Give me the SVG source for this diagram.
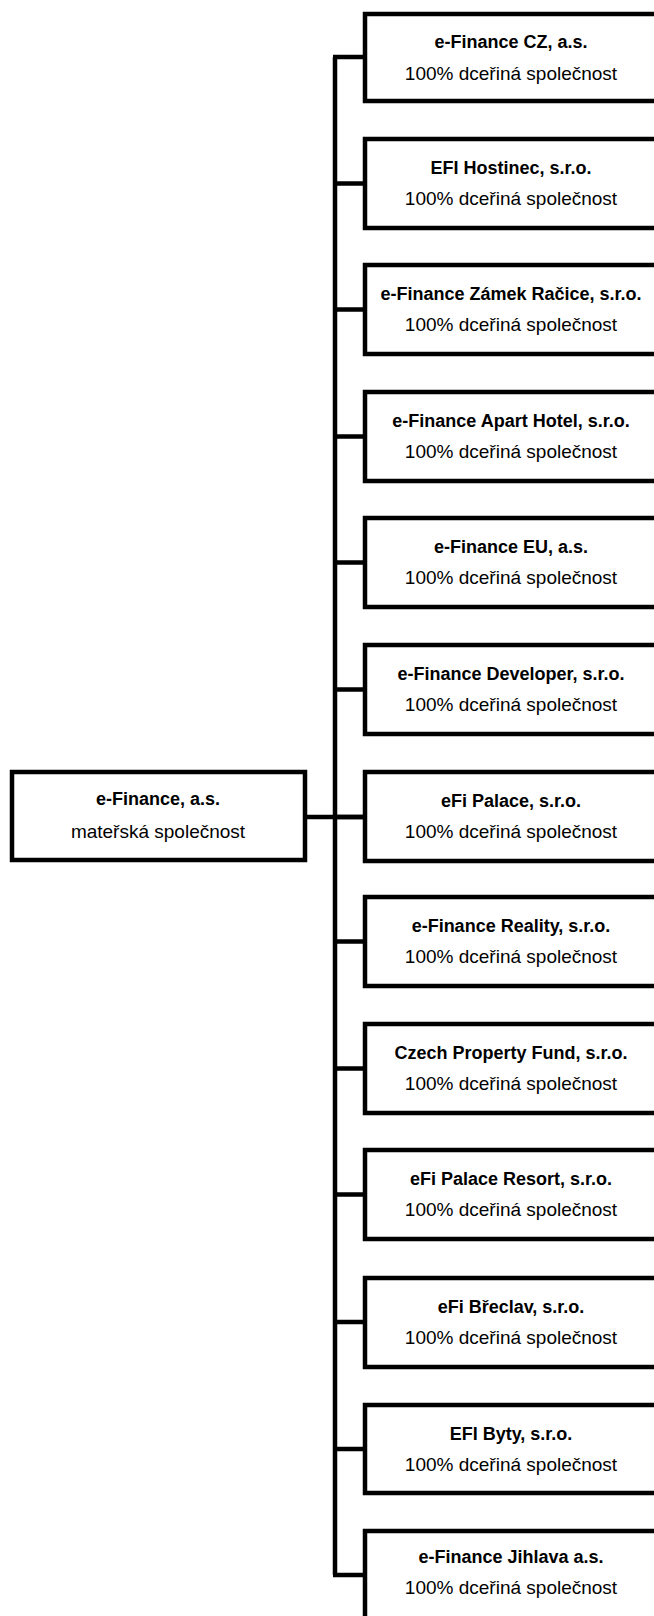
<svg xmlns="http://www.w3.org/2000/svg" width="654" height="1616" viewBox="0 0 654 1616">
<style>
.box{fill:#fff;stroke:#000;stroke-width:4.5}
.b{font-family:"Liberation Sans",Arial,sans-serif;font-weight:bold;font-size:18px;text-anchor:middle;fill:#000}
.r{font-family:"Liberation Sans",Arial,sans-serif;font-size:19px;text-anchor:middle;fill:#000}
.c{fill:none;stroke:#000;stroke-width:4.5}
</style>
<rect width="654" height="1616" fill="#fff"/>
<g id="connectors">
<path class="c" d="M335 57V1575"/>
<path class="c" d="M305 817H365"/>
<path class="c" d="M333 57H365M333 183.5H365M333 309.5H365M333 436.5H365M333 562.5H365M333 689.5H365M333 817H365M333 941.5H365M333 1068.5H365M333 1194.5H365M333 1322H365M333 1449H365M333 1575H365"/>
</g>
<g id="parent"><rect class="box" x="12" y="772" width="293" height="88"/><text class="b" x="158" y="805">e-Finance, a.s.</text><text class="r" x="158" y="838">mateřská společnost</text></g>
<g id="n1"><rect class="box" x="365" y="14" width="300" height="87"/><text class="b" x="511" y="48">e-Finance CZ, a.s.</text><text class="r" x="511" y="80">100% dceřiná společnost</text></g>
<g id="n2"><rect class="box" x="365" y="139" width="300" height="89"/><text class="b" x="511" y="174">EFI Hostinec, s.r.o.</text><text class="r" x="511" y="205">100% dceřiná společnost</text></g>
<g id="n3"><rect class="box" x="365" y="265" width="300" height="89"/><text class="b" x="511" y="300">e-Finance Zámek Račice, s.r.o.</text><text class="r" x="511" y="331">100% dceřiná společnost</text></g>
<g id="n4"><rect class="box" x="365" y="392" width="300" height="89"/><text class="b" x="511" y="427">e-Finance Apart Hotel, s.r.o.</text><text class="r" x="511" y="458">100% dceřiná společnost</text></g>
<g id="n5"><rect class="box" x="365" y="518" width="300" height="89"/><text class="b" x="511" y="553">e-Finance EU, a.s.</text><text class="r" x="511" y="584">100% dceřiná společnost</text></g>
<g id="n6"><rect class="box" x="365" y="645" width="300" height="89"/><text class="b" x="511" y="680">e-Finance Developer, s.r.o.</text><text class="r" x="511" y="711">100% dceřiná společnost</text></g>
<g id="n7"><rect class="box" x="365" y="772" width="300" height="89"/><text class="b" x="511" y="807">eFi Palace, s.r.o.</text><text class="r" x="511" y="838">100% dceřiná společnost</text></g>
<g id="n8"><rect class="box" x="365" y="897" width="300" height="89"/><text class="b" x="511" y="932">e-Finance Reality, s.r.o.</text><text class="r" x="511" y="963">100% dceřiná společnost</text></g>
<g id="n9"><rect class="box" x="365" y="1024" width="300" height="89"/><text class="b" x="511" y="1059">Czech Property Fund, s.r.o.</text><text class="r" x="511" y="1090">100% dceřiná společnost</text></g>
<g id="n10"><rect class="box" x="365" y="1150" width="300" height="89"/><text class="b" x="511" y="1185">eFi Palace Resort, s.r.o.</text><text class="r" x="511" y="1216">100% dceřiná společnost</text></g>
<g id="n11"><rect class="box" x="365" y="1278" width="300" height="89"/><text class="b" x="511" y="1313">eFi Břeclav, s.r.o.</text><text class="r" x="511" y="1344">100% dceřiná společnost</text></g>
<g id="n12"><rect class="box" x="365" y="1405" width="300" height="88"/><text class="b" x="511" y="1440">EFI Byty, s.r.o.</text><text class="r" x="511" y="1471">100% dceřiná společnost</text></g>
<g id="n13"><rect class="box" x="365" y="1531" width="300" height="100"/><text class="b" x="511" y="1563">e-Finance Jihlava a.s.</text><text class="r" x="511" y="1594">100% dceřiná společnost</text></g>
</svg>
